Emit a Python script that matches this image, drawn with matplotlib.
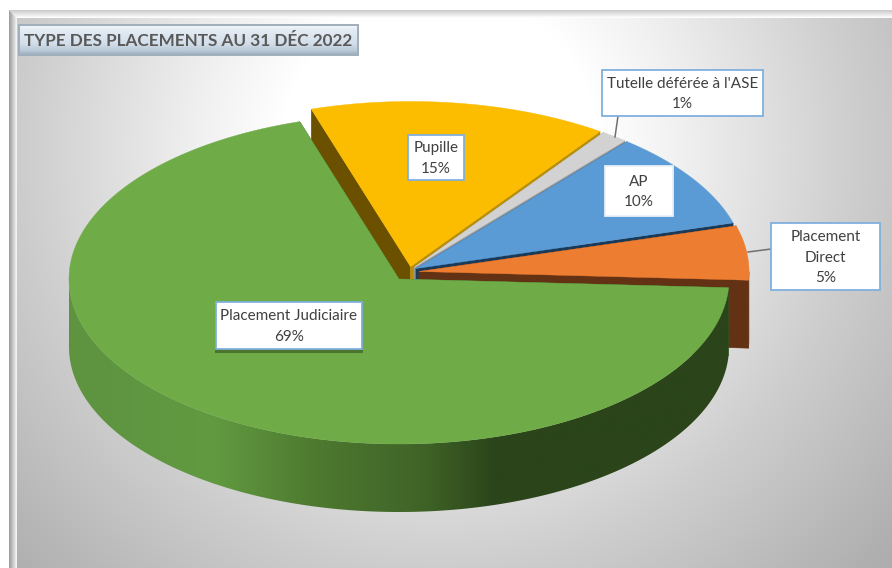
import numpy as np
import matplotlib
matplotlib.use("Agg")
import matplotlib.pyplot as plt
from matplotlib.patches import Polygon, Rectangle
from matplotlib.colors import LinearSegmentedColormap

# ---- data (painter's order, clockwise from the start angle)
title = "TYPE DES PLACEMENTS AU 31 DÉC 2022"
labels = ["Pupille", "Tutelle déférée à l'ASE", "AP", "Placement\nDirect", "Placement Judiciaire"]
values = [14.6, 1.3, 9.5, 5.3, 69.3]

# ---- style
top_colors = ["#fcbc00", "#d2d2d2", "#5b9bd5", "#ed7d31", "#6fab47"]
arc_colors = ["#6b5000", "#8a8a8a", "#2c4f72", "#633215", None]
cut_start = ["#6b5000", "#8a8a8a", "#2c4f72", "#633215", "#3c5f26"]
cut_end = ["#b98e00", "#979797", "#1a3a5a", "#633215", "#3c5f26"]
centers = [(410.5, 266.5), (414, 267.5), (416, 268.5), (419, 271.5), (399, 279)]
A, B, DEPTH = 330, 165, 68
START = 107.5
W, H = 892, 568

fig = plt.figure(figsize=(W / 100, H / 100), dpi=100)
ax = fig.add_axes([0, 0, 1, 1])
ax.set_xlim(0, W)
ax.set_ylim(H, 0)
ax.axis("off")
plt.rcParams["font.family"] = ["Lato", "DejaVu Sans"]

# background: radial grey gradient inside a bevelled frame
yy, xx = np.mgrid[0:H, 0:W]
r = np.hypot(xx - 440.0, yy - 150.0)
g = np.interp(r, [0, 160, 245, 410, 590, 700], [1.0, 1.0, 0.94, 0.81, 0.69, 0.64])
bg = np.dstack([g, g, g])
frame_x0, frame_y0 = 9, 10
im = ax.imshow(bg, extent=(0, W, H, 0), aspect="auto", zorder=1, interpolation="bilinear")
im.set_clip_path(Rectangle((frame_x0, frame_y0), W, H, transform=ax.transData))
# bevel
ramp = np.linspace(0, 1, 8)
for i, t in enumerate(ramp):
    c = str(0.62 + 0.33 * t)
    ax.add_patch(Rectangle((frame_x0 + i, frame_y0 + i), 1.2, H, color=c, lw=0, zorder=2))
    ax.add_patch(Rectangle((frame_x0 + i, frame_y0 + i), W, 1.2, color=str(0.80 + 0.19 * t), lw=0, zorder=2))


def ell(c, deg):
    t = np.radians(deg)
    return np.column_stack([c[0] + A * np.cos(t), c[1] - B * np.sin(t)])


green_cmap = LinearSegmentedColormap.from_list(
    "g", [(0, "#5e9340"), (0.22, "#619a40"), (0.37, "#4e7a30"), (0.54, "#3f6327"), (0.645, "#2b451a"), (1, "#2b441a")])

theta = START
z = 5
for val, top, arc, c_s, c_e, c in zip(values, top_colors, arc_colors, cut_start, cut_end, centers):
    t0, t1 = theta, theta - val * 3.6
    theta = t1
    angs = np.linspace(t0, t1, 400)
    rim = ell(c, angs)
    shift = np.array([0, DEPTH])
    apex = np.array(c, float)
    # cut faces
    for pt, col in ((rim[0], c_s), (rim[-1], c_e)):
        ax.add_patch(Polygon([apex, pt, pt + shift, apex + shift], closed=True, fc=col, ec=col, lw=0.3, zorder=z))
    z += 1
    # outer wall (front half only)
    sn = np.sin(np.radians(angs))
    front = rim[sn <= 0]
    if len(front) > 1:
        wall = np.vstack([front, (front + shift)[::-1]])
        if arc is None:
            p = Polygon(wall, closed=True, fc="none", ec="none", zorder=z)
            ax.add_patch(p)
            grad = np.linspace(0, 1, 512).reshape(1, -1)
            gi = ax.imshow(grad, cmap=green_cmap, aspect="auto", zorder=z,
                           extent=(c[0] - A, c[0] + A, H, 0))
            gi.set_clip_path(p)
        else:
            ax.add_patch(Polygon(wall, closed=True, fc=arc, ec=arc, lw=0.3, zorder=z))
    z += 1
    # top face
    ax.add_patch(Polygon(np.vstack([apex, rim]), closed=True, fc=top, ec=top, lw=0.3, zorder=z))
    z += 1
ax.set_xlim(0, W)
ax.set_ylim(H, 0)

# leader lines
ax.plot([615, 618], [137, 116], color="#707070", lw=1.1, zorder=30)
ax.plot([748, 771], [252, 249], color="#707070", lw=1.1, zorder=30)

# data labels
boxes = [(408, 135, 464, 180, "#7fb0dd"), (602, 70, 763, 116, "#7fb0dd"), (605, 166, 673, 216, "#e8f0f8"),
         (771, 223, 880, 290, "#7fb0dd"), (216, 302, 362, 349, "#7fb0dd")]
for i, (lab, val, (x0, y0, x1, y1, ec)) in enumerate(zip(labels, values, boxes)):
    if i == 4:
        ax.add_patch(Rectangle((x0 - 1, y0 + 3), x1 - x0 + 2, y1 - y0 + 1, fc="#3c5f26", ec="none", alpha=0.7, zorder=30.5))
    ax.add_patch(Rectangle((x0, y0), x1 - x0, y1 - y0, fc="white", ec=ec, lw=1.3, zorder=31))
    ax.text((x0 + x1) / 2, (y0 + y1) / 2 + 1, f"{lab}\n{round(val)}%", ha="center", va="center",
            fontsize=11, color="#404040", linespacing=1.55, zorder=32)

# title box with bevel
tb = Rectangle((19, 25), 339, 30, fc="none", ec="none", zorder=33)
ax.add_patch(tb)
bev = LinearSegmentedColormap.from_list("b", [(0, "#f4f8fc"), (0.12, "#e6eef5"), (0.6, "#d3dfea"), (0.85, "#bccbd9"), (1, "#9aadbf")])
ti = ax.imshow(np.linspace(0, 1, 64).reshape(-1, 1), cmap=bev, aspect="auto", zorder=33, extent=(19, 358, 55, 25))
ti.set_clip_path(tb)
ax.add_patch(Rectangle((19, 25), 339, 30, fc="none", ec="#a0aebb", lw=1.4, zorder=34))
ax.set_xlim(0, W)
ax.set_ylim(H, 0)
ax.text(188.5, 40.5, title, ha="center", va="center", fontsize=12.3, fontweight="bold", color="#595959", zorder=35)

fig.savefig("out.png", dpi=100, facecolor="white")
